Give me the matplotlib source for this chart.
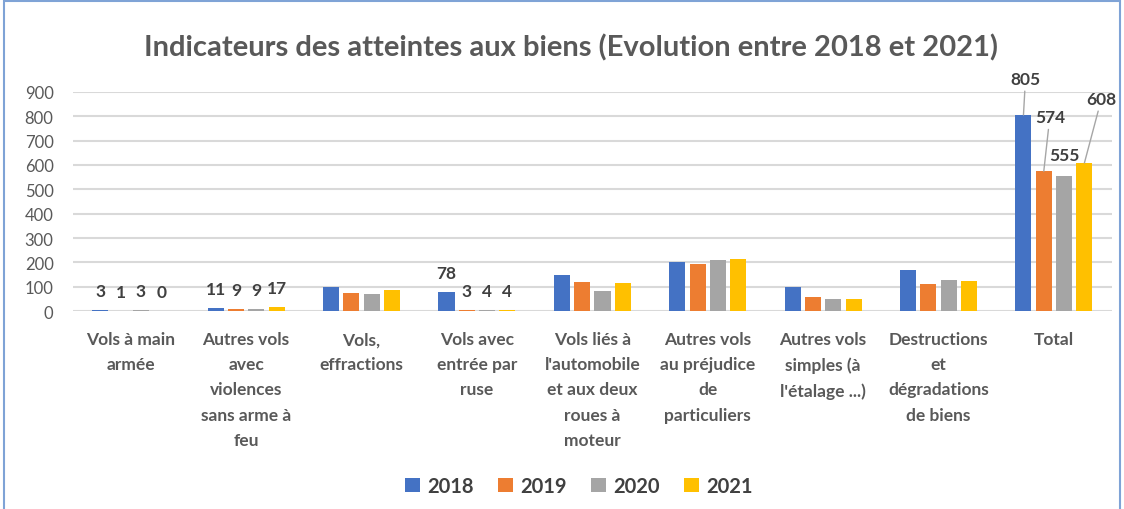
import matplotlib.pyplot as plt
import numpy as np
from matplotlib.patches import Rectangle

plt.rcParams['font.family'] = ['Lato', 'DejaVu Sans']

# donnees
categories = [
    "Vols à main\narmée",
    "Autres vols\navec\nviolences\nsans arme à\nfeu",
    "Vols,\neffractions",
    "Vols avec\nentrée par\nruse",
    "Vols liés à\nl'automobile\net aux deux\nroues à\nmoteur",
    "Autres vols\nau préjudice\nde\nparticuliers",
    "Autres vols\nsimples (à\nl'étalage ...)",
    "Destructions\net\ndégradations\nde biens",
    "Total",
]
annees = ["2018", "2019", "2020", "2021"]
v2018 = [3, 11, 98, 78, 148, 200, 100, 167, 805]
v2019 = [1, 9, 76, 3, 121, 193, 60, 111, 574]
v2020 = [3, 9, 70, 4, 82, 210, 49, 128, 555]
v2021 = [0, 17, 87, 4, 115, 212, 49, 124, 608]
series = [v2018, v2019, v2020, v2021]
couleurs = ['#4472C4', '#ED7D31', '#A5A5A5', '#FFC000']

# categories qui ont des etiquettes de donnees
avec_etiquettes = [0, 1, 3]
# etiquettes du total deplacees a la main (dx, dy en pixels, trait de rappel)
total_offsets = [(2, 28, True), (6, 46, True), (0, 13, False), (17, 56, True)]

gris = '#595959'
fonce = '#404040'

fig = plt.figure(figsize=(11.24, 5.10), dpi=100)
ax = fig.add_axes([0.065, 0.388, 0.924, 0.430])

x = np.arange(len(categories))
pas = 0.176
larg = 0.139
for i, (vals, coul, an) in enumerate(zip(series, couleurs, annees)):
    pos = x + (i - 1.5) * pas
    ax.bar(pos, vals, width=larg, color=coul, label=an, zorder=3)
    for k in avec_etiquettes:
        ax.annotate(str(vals[k]), (pos[k], vals[k]), xytext=(0, 11),
                    textcoords='offset pixels', ha='center', va='bottom',
                    fontsize=12.5, fontweight='bold', color=fonce)
    k = len(categories) - 1
    dx, dy, trait = total_offsets[i]
    props = dict(arrowstyle='-', color='#A6A6A6', lw=1, shrinkA=1, shrinkB=0) if trait else None
    ax.annotate(str(vals[k]), (pos[k], vals[k]), xytext=(dx, dy),
                textcoords='offset pixels', ha='center', va='bottom',
                fontsize=12.5, fontweight='bold', color=fonce, arrowprops=props)

ax.set_xlim(-0.5, len(categories) - 0.5)
ax.set_ylim(0, 900)
ax.set_yticks(range(0, 901, 100))
ax.yaxis.grid(True, color='#D9D9D9', lw=1.5, zorder=0)
ax.set_axisbelow(True)
for s in ax.spines.values():
    s.set_visible(False)
ax.tick_params(axis='both', length=0)
ax.tick_params(axis='y', labelsize=12, labelcolor=gris, pad=14)
ax.set_xticks(x)
ax.set_xticklabels(categories, fontsize=12.5, fontweight='bold', color=gris,
                   linespacing=1.7, va='top')
ax.tick_params(axis='x', pad=14.5)

fig.text(0.508, 0.907, "Indicateurs des atteintes aux biens (Evolution entre 2018 et 2021)",
         ha='center', va='center', fontsize=21, fontweight='bold', color=gris)

leg = fig.legend(loc='center', bbox_to_anchor=(0.515, 0.045), ncol=4, frameon=False,
                 handlelength=0.75, handleheight=0.75, handletextpad=0.35, columnspacing=1.2,
                 prop={'size': 14.5, 'weight': 'bold'})
for t in leg.get_texts():
    t.set_color(fonce)

# cadre du graphique
fig.patches.append(Rectangle((0.004, -0.05), 0.992, 1.046, transform=fig.transFigure,
                             fill=False, edgecolor='#7FA3D6', lw=1.5))

fig.savefig('out.png', dpi=100)
